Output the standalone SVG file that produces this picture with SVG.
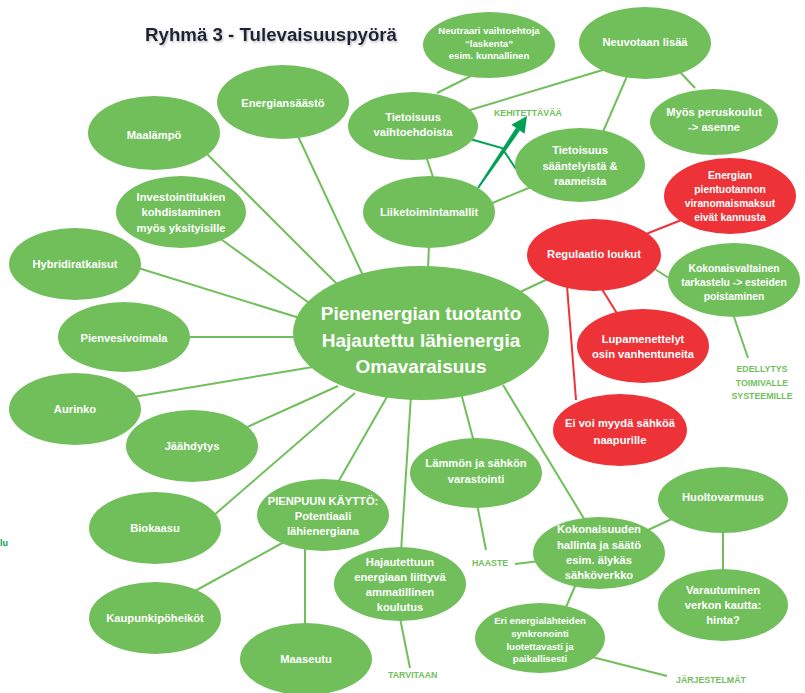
<svg xmlns="http://www.w3.org/2000/svg" width="805" height="693" viewBox="0 0 805 693">
<defs>
<style>
.g{fill:#70BF5B}
.r{fill:#EE3338}
.t{font-family:"Liberation Sans",Arial,sans-serif;font-weight:bold;fill:#fff;font-size:11.2px;text-anchor:middle}
.s{font-size:9.6px}
.m{font-size:10.3px}
.c{font-size:19px}
.lbl{font-family:"Liberation Sans",Arial,sans-serif;font-weight:bold;fill:#70BF5B;font-size:8.8px}
.cg{stroke:#70BF5B;stroke-width:2;fill:none}
.cr{stroke:#EE3338;stroke-width:2;fill:none}
.ct{stroke:#00A056;stroke-width:2;fill:none}
</style>
<filter id="sh" x="-5%" y="-30%" width="110%" height="160%">
<feDropShadow dx="1" dy="1.5" stdDeviation="1.2" flood-color="#8a8f99" flood-opacity="0.6"/>
</filter>
</defs>
<rect width="805" height="693" fill="#fff"/>
<text x="145" y="41" font-family="'Liberation Sans',Arial,sans-serif" font-weight="bold" font-size="18.7" fill="#1F2232" filter="url(#sh)">Ryhmä 3 - Tulevaisuuspyörä</text>

<g id="connectors">
<line class="cg" x1="200" y1="147" x2="345" y2="292"/>
<line class="cg" x1="297" y1="134" x2="366" y2="282"/>
<line class="cg" x1="218" y1="237" x2="316" y2="308"/>
<line class="cg" x1="135" y1="267" x2="306" y2="320"/>
<line class="cg" x1="186" y1="337" x2="299" y2="337"/>
<line class="cg" x1="133" y1="397" x2="313" y2="367"/>
<line class="cg" x1="245" y1="428" x2="338" y2="386"/>
<line class="cg" x1="213" y1="516" x2="355" y2="393"/>
<line class="cg" x1="337" y1="484" x2="388" y2="395"/>
<line class="cg" x1="401" y1="552" x2="411" y2="395"/>
<line class="cg" x1="474" y1="442" x2="461" y2="393"/>
<line class="cg" x1="586" y1="522" x2="503" y2="385"/>
<line class="cg" x1="429" y1="244" x2="428" y2="270"/>
<line class="cg" x1="552" y1="277" x2="518" y2="293"/>
<line class="cg" x1="437" y1="93" x2="471" y2="76"/>
<line class="cg" x1="470" y1="110" x2="606" y2="69"/>
<line class="cg" x1="602" y1="134" x2="628" y2="74"/>
<line class="cg" x1="680" y1="72" x2="695" y2="88"/>
<line class="cg" x1="426" y1="156" x2="434" y2="180"/>
<line class="cg" x1="490" y1="204" x2="531" y2="187"/>
<line class="cg" x1="650" y1="266" x2="672" y2="280"/>
<line class="cg" x1="733" y1="314" x2="748" y2="358"/>
<line class="cg" x1="477" y1="504" x2="486" y2="550"/>
<line class="cg" x1="515" y1="564" x2="540" y2="561"/>
<line class="cg" x1="648" y1="530" x2="676" y2="517"/>
<line class="cg" x1="723" y1="530" x2="723" y2="572"/>
<line class="cg" x1="576" y1="584" x2="566" y2="607"/>
<line class="cg" x1="592" y1="657" x2="667" y2="676"/>
<line class="cg" x1="400" y1="618" x2="410" y2="668"/>
<line class="cg" x1="284" y1="542" x2="195" y2="591"/>
<line class="cg" x1="305" y1="548" x2="305" y2="626"/>
<line class="cr" x1="646" y1="234" x2="684" y2="219"/>
<line class="cr" x1="600" y1="286" x2="618" y2="315"/>
<line class="cr" x1="567" y1="286" x2="576" y2="400"/>
<polyline class="ct" points="470,139 502,148 516,169"/>
<polygon fill="#00A056" points="477.2,187.4 478.8,188.6 520.0,130.6 516.0,127.8"/>
<polygon fill="#00A056" points="527,116 524.6,133.7 511.4,124.7"/>
</g>

<g id="n-neutraari"><ellipse class="g" cx="489" cy="45" rx="66" ry="33"/><text class="t s" x="489" y="33.5">Neutraari vaihtoehtoja</text><text class="t s" x="489" y="46.5">“laskenta”</text><text class="t s" x="489" y="58.5">esim. kunnallinen</text></g>
<g id="n-neuvotaan"><ellipse class="g" cx="645" cy="43" rx="66" ry="36"/><text class="t" x="645" y="46">Neuvotaan lisää</text></g>
<g id="n-peruskoulut"><ellipse class="g" cx="714" cy="122" rx="64" ry="33"/><text class="t" x="714" y="116">Myös peruskoulut</text><text class="t" x="714" y="131">-&gt; asenne</text></g>
<g id="n-tietoisuus-v"><ellipse class="g" cx="413" cy="126" rx="65" ry="34"/><text class="t" x="413" y="121">Tietoisuus</text><text class="t" x="413" y="136">vaihtoehdoista</text></g>
<g id="n-tietoisuus-s"><ellipse class="g" cx="580" cy="165" rx="65" ry="37"/><text class="t" x="580" y="154">Tietoisuus</text><text class="t" x="580" y="170">sääntelyistä &amp;</text><text class="t" x="580" y="185">raameista</text></g>
<g id="n-liiketoiminta"><ellipse class="g" cx="429" cy="212" rx="66" ry="36"/><text class="t" x="429" y="216">Liiketoimintamallit</text></g>
<g id="n-energiansaasto"><ellipse class="g" cx="283" cy="102" rx="66" ry="37"/><text class="t" x="283" y="107">Energiansäästö</text></g>
<g id="n-maalampo"><ellipse class="g" cx="154" cy="133" rx="66" ry="37"/><text class="t" x="154" y="139">Maalämpö</text></g>
<g id="n-investointi"><ellipse class="g" cx="181" cy="212" rx="65" ry="36"/><text class="t" x="181" y="201">Investointitukien</text><text class="t" x="181" y="216">kohdistaminen</text><text class="t" x="181" y="232">myös yksityisille</text></g>
<g id="n-hybridi"><ellipse class="g" cx="75" cy="264" rx="66" ry="36"/><text class="t" x="75" y="268">Hybridiratkaisut</text></g>
<g id="n-pienvesi"><ellipse class="g" cx="124" cy="337" rx="66" ry="35"/><text class="t" x="124" y="342">Pienvesivoimala</text></g>
<g id="n-aurinko"><ellipse class="g" cx="75" cy="409" rx="66" ry="36"/><text class="t" x="75" y="413">Aurinko</text></g>
<g id="n-jaahdytys"><ellipse class="g" cx="192" cy="446" rx="66" ry="36"/><text class="t" x="192" y="450">Jäähdytys</text></g>
<g id="n-biokaasu"><ellipse class="g" cx="155" cy="528" rx="66" ry="36"/><text class="t" x="155" y="532">Biokaasu</text></g>
<g id="n-pienpuu"><ellipse class="g" cx="323" cy="515" rx="66" ry="36"/><text class="t" x="323" y="505">PIENPUUN KÄYTTÖ:</text><text class="t" x="323" y="520">Potentiaali</text><text class="t" x="323" y="535">lähienergiana</text></g>
<g id="n-kaupunki"><ellipse class="g" cx="155" cy="618" rx="66" ry="36"/><text class="t" x="155" y="622">Kaupunkipöheiköt</text></g>
<g id="n-maaseutu"><ellipse class="g" cx="306" cy="659" rx="66" ry="36"/><text class="t" x="306" y="663">Maaseutu</text></g>
<g id="n-koulutus"><ellipse class="g" cx="400" cy="584" rx="66" ry="37"/><text class="t" x="400" y="566">Hajautettuun</text><text class="t" x="400" y="581">energiaan liittyvä</text><text class="t" x="400" y="596">ammatillinen</text><text class="t" x="400" y="611">koulutus</text></g>
<g id="n-varastointi"><ellipse class="g" cx="476" cy="473" rx="66" ry="35"/><text class="t" x="476" y="467">Lämmön ja sähkön</text><text class="t" x="476" y="483">varastointi</text></g>
<g id="n-kokonaisuus"><ellipse class="g" cx="599" cy="553" rx="66" ry="36"/><text class="t" x="599" y="533">Kokonaisuuden</text><text class="t" x="599" y="549">hallinta ja säätö</text><text class="t" x="599" y="564">esim. älykäs</text><text class="t" x="599" y="579">sähköverkko</text></g>
<g id="n-huoltovarmuus"><ellipse class="g" cx="723" cy="500" rx="65" ry="33"/><text class="t" x="723" y="501" font-size="12">Huoltovarmuus</text></g>
<g id="n-varautuminen"><ellipse class="g" cx="723" cy="605" rx="65" ry="36"/><text class="t" x="723" y="594">Varautuminen</text><text class="t" x="723" y="609">verkon kautta:</text><text class="t" x="723" y="624">hinta?</text></g>
<g id="n-synkronointi"><ellipse class="g" cx="540" cy="638" rx="65" ry="35"/><text class="t s" x="540" y="623.5">Eri energialähteiden</text><text class="t s" x="540" y="636.5">synkronointi</text><text class="t s" x="540" y="649.5">luotettavasti ja</text><text class="t s" x="540" y="661.5">paikallisesti</text></g>
<g id="n-regulaatio"><ellipse class="r" cx="594" cy="255" rx="67" ry="36"/><text class="t" x="594" y="258">Regulaatio loukut</text></g>
<g id="n-maksut"><ellipse class="r" cx="730" cy="196" rx="66" ry="38"/><text class="t m" x="730" y="178.5">Energian</text><text class="t m" x="730" y="192.5">pientuotannon</text><text class="t m" x="730" y="206.5">viranomaismaksut</text><text class="t m" x="730" y="220.5">eivät kannusta</text></g>
<g id="n-kokonaisvaltainen"><ellipse class="g" cx="734" cy="280" rx="66" ry="37"/><text class="t m" x="734" y="271.5">Kokonaisvaltainen</text><text class="t m" x="734" y="285.5">tarkastelu -&gt; esteiden</text><text class="t m" x="734" y="299.5">poistaminen</text></g>
<g id="n-lupamenettelyt"><ellipse class="r" cx="643" cy="346" rx="66" ry="37"/><text class="t" x="643" y="343">Lupamenettelyt</text><text class="t" x="643" y="358">osin vanhentuneita</text></g>
<g id="n-naapuri"><ellipse class="r" cx="620" cy="430" rx="67" ry="36"/><text class="t" x="620" y="427">Ei voi myydä sähköä</text><text class="t" x="620" y="444">naapurille</text></g>
<g id="n-central"><ellipse class="g" cx="421" cy="333" rx="128" ry="67"/><text class="t c" x="421" y="320">Pienenergian tuotanto</text><text class="t c" x="421" y="347">Hajautettu lähienergia</text><text class="t c" x="421" y="373">Omavaraisuus</text></g>

<g id="labels">
<text class="lbl" x="494" y="115.5">KEHITETTÄVÄÄ</text>
<text class="lbl" x="472" y="566">HAASTE</text>
<text class="lbl" x="388" y="678">TARVITAAN</text>
<text class="lbl" x="676" y="683">JÄRJESTELMÄT</text>
<text class="lbl" x="762" y="372" text-anchor="middle">EDELLYTYS</text>
<text class="lbl" x="762" y="386" text-anchor="middle">TOIMIVALLE</text>
<text class="lbl" x="762" y="399" text-anchor="middle">SYSTEEMILLE</text>
<text class="lbl" x="0" y="546" fill="#00A056" style="fill:#00A056">lu</text>
</g>
</svg>
